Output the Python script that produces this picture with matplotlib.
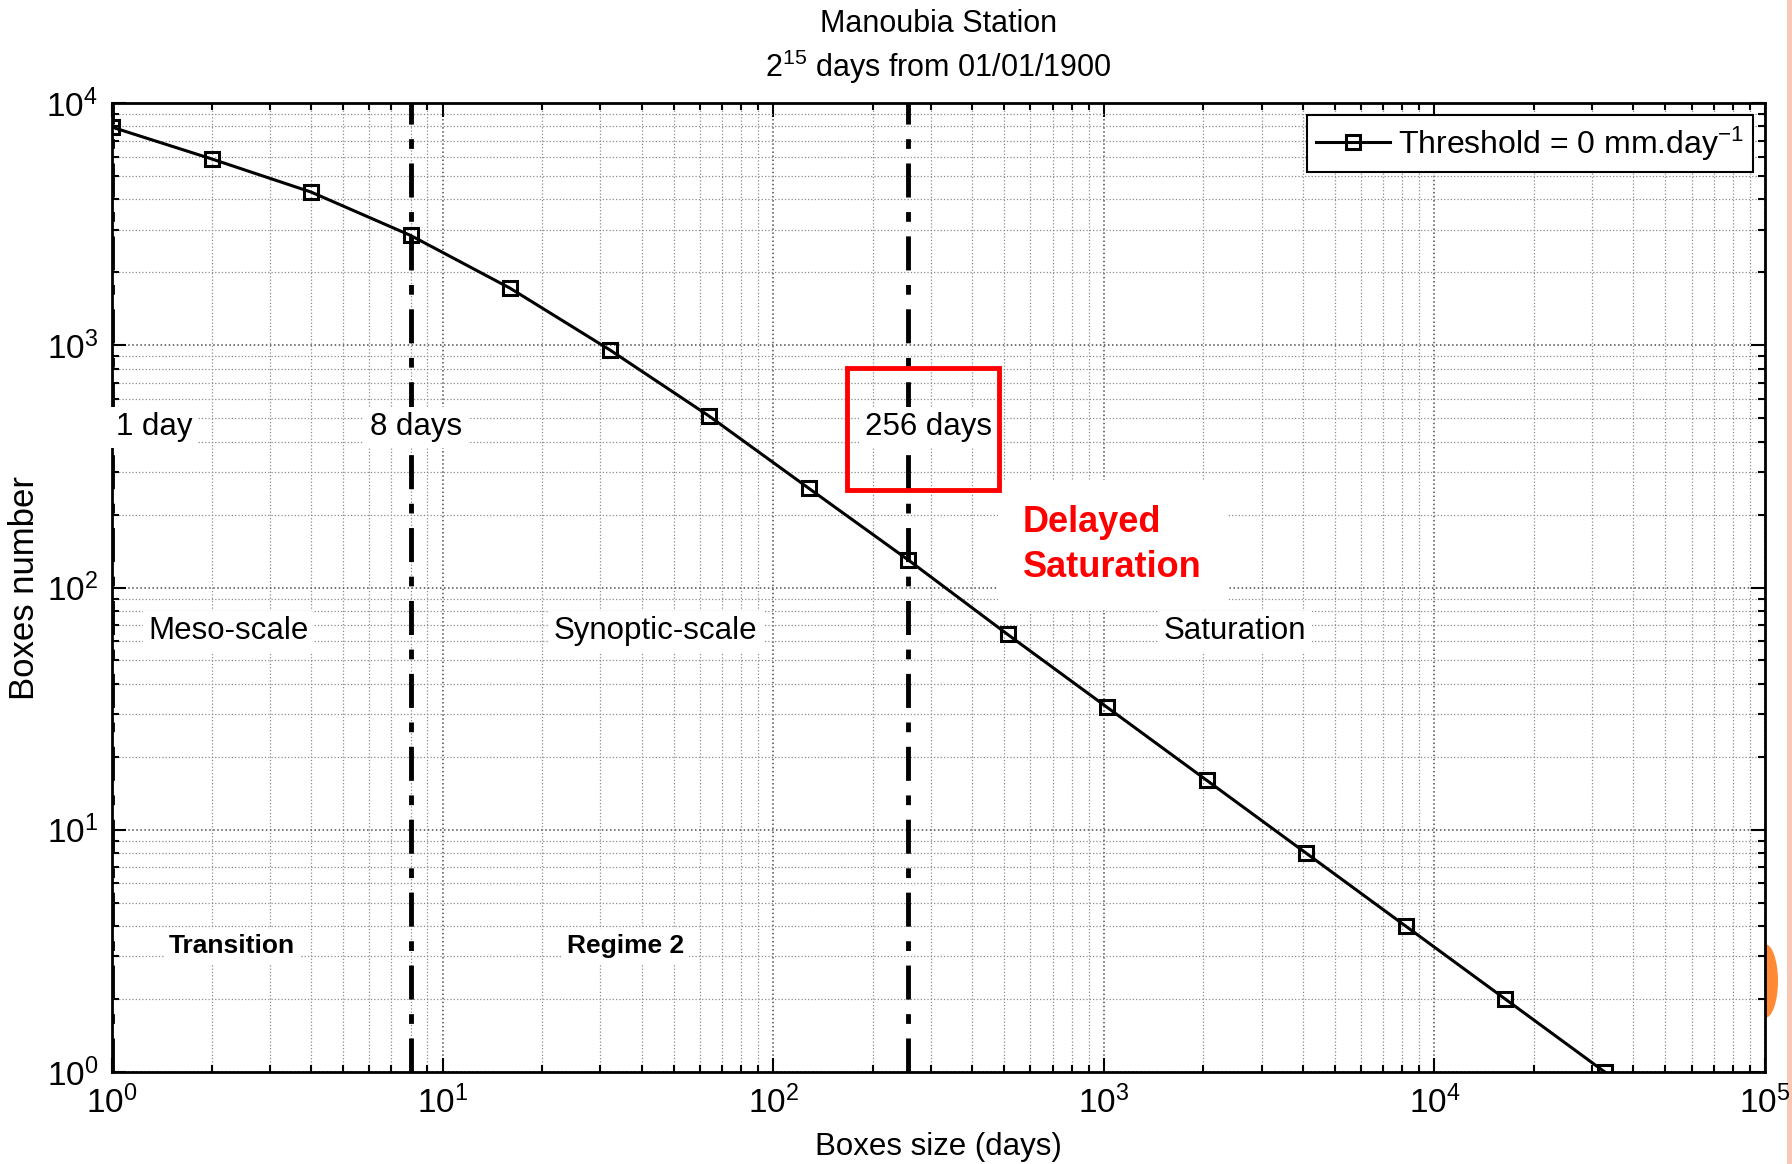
import numpy as np
import matplotlib
matplotlib.use("Agg")
import matplotlib.pyplot as plt
from matplotlib.patches import Rectangle, Ellipse

plt.rcParams['font.family'] = ['Liberation Sans', 'DejaVu Sans']
plt.rcParams['mathtext.fontset'] = 'custom'
plt.rcParams['mathtext.rm'] = 'Liberation Sans'
plt.rcParams['mathtext.it'] = 'Liberation Sans:italic'
plt.rcParams['mathtext.bf'] = 'Liberation Sans:bold'

# box-counting data, box sizes 2^0 .. 2^15 days
box_size = [1, 2, 4, 8, 16, 32, 64, 128, 256, 512, 1024, 2048, 4096, 8192, 16384, 32768]
box_count = [7950, 5880, 4290, 2840, 1720, 958, 510, 257, 130, 64, 32, 16, 8, 4, 2, 1]

scale_breaks = [1, 8, 256]
break_labels = ["1 day", "8 days", "256 days"]
break_label_x = [1.03, 8.3, 294]
break_label_y = 458

regime_names = ["Meso-scale", "Synoptic-scale", "Saturation"]
regime_x = [2.25, 44, 2490]
regime_y = 66

regime_types = ["Transition", "Regime 2"]
regime_type_x = [2.31, 35.7]
regime_type_y = 3.3

fig = plt.figure(figsize=(17.92, 11.64), dpi=100)

# slide decoration at the right edge
fig.patches.append(Rectangle((0.9972, 0), 0.0028, 1, transform=fig.transFigure,
                             facecolor='#f8c7b6', edgecolor='none', zorder=0))
fig.patches.append(Ellipse((1765 / 1792, 1 - 981 / 1164), 26 / 1792, 74 / 1164,
                           transform=fig.transFigure, facecolor='#ff8a33',
                           edgecolor='none', zorder=0))

ax = fig.add_axes([112 / 1792, 1 - 1072 / 1164, 1653 / 1792, 969 / 1164])
ax.set_zorder(1)

ax.set_xscale('log')
ax.set_yscale('log')
ax.set_xlim(1, 1e5)
ax.set_ylim(1, 1e4)

ax.grid(True, which='major', linestyle=':', color='0.3', linewidth=1.1)
ax.grid(True, which='minor', linestyle=':', color='0.55', linewidth=0.9)
ax.set_axisbelow(True)

for xb in scale_breaks:
    ax.plot([xb, xb], [1, 1e4], color='black', linestyle='-.', linewidth=3.5,
            dashes=(7, 3, 2, 3), zorder=3)

ax.plot(box_size, box_count, color='black', linewidth=2.2, marker='s',
        markersize=10, markerfacecolor='none', markeredgewidth=2.2,
        label=r'Threshold = 0 mm.day$^{-1}$', zorder=4)

white = dict(facecolor='white', edgecolor='none', pad=4)

for i, lab in enumerate(break_labels):
    ha = 'left' if i == 0 else 'center'
    ax.text(break_label_x[i], break_label_y, lab, fontsize=22.5, ha=ha, va='center',
            bbox=white, zorder=5)

for i, lab in enumerate(regime_names):
    ax.text(regime_x[i], regime_y, lab, fontsize=22.5, ha='center', va='center',
            bbox=white, zorder=5)

for i, lab in enumerate(regime_types):
    ax.text(regime_type_x[i], regime_type_y, lab, fontsize=19, fontweight='bold',
            ha='center', va='center', bbox=white, zorder=5)

ax.text(570, 150, "Delayed\nSaturation", fontsize=26, fontweight='bold', color='#ff0000',
        ha='left', va='center', linespacing=1.35,
        bbox=dict(facecolor='white', edgecolor='none', boxstyle='square,pad=0.7'), zorder=5)

ax.add_patch(Rectangle((167, 252), 483 - 167, 805 - 252, facecolor='none',
                       edgecolor='#ff0000', linewidth=3.5, zorder=6))

ax.tick_params(which='both', direction='in', top=True, right=True, labelsize=24,
               width=1.5, pad=10)
ax.tick_params(which='major', length=10)
ax.tick_params(which='minor', length=5)
for s in ax.spines.values():
    s.set_linewidth(2)

ax.set_xlabel("Boxes size (days)", fontsize=22.5, labelpad=8)
ax.set_ylabel("Boxes number", fontsize=25, labelpad=4)
ax.set_title("Manoubia Station\n" + r"2$^{15}$ days from 01/01/1900", fontsize=22,
             pad=19, linespacing=1.3)

leg = ax.legend(loc='upper right', fontsize=23, fancybox=False, framealpha=1,
                edgecolor='black', borderpad=0.3, handlelength=2.3, handletextpad=0.25,
                borderaxespad=0, bbox_to_anchor=(0.993, 0.988))
leg.get_frame().set_linewidth(1.5)
leg.set_zorder(7)

fig.savefig("out.png", dpi=100)
